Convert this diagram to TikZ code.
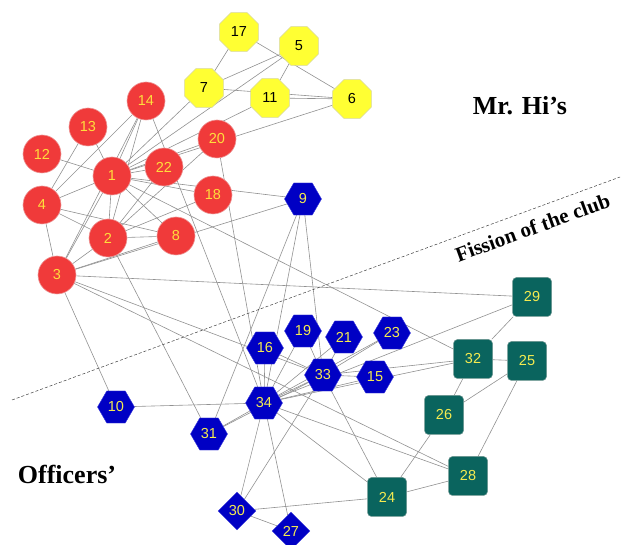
\documentclass[tikz,border=0pt]{standalone}
\usepackage{fontspec}
\setmainfont{Liberation Serif}
\newfontfamily\numfont{Liberation Sans}
\usetikzlibrary{shapes.geometric,backgrounds}
\definecolor{hired}{RGB}{240,58,58}
\definecolor{hiredline}{RGB}{236,150,150}
\definecolor{hitext}{RGB}{255,222,60}
\definecolor{yelfill}{RGB}{255,255,51}
\definecolor{yelline}{RGB}{215,215,150}
\definecolor{offblue}{RGB}{0,0,196}
\definecolor{offline}{RGB}{60,60,220}
\definecolor{offtext}{RGB}{245,235,80}
\definecolor{tealfill}{RGB}{10,100,94}
\definecolor{tealline}{RGB}{110,150,145}
\definecolor{edgegray}{RGB}{145,145,145}
\begin{document}
\begin{tikzpicture}[x=1pt,y=-1pt,
  lbl/.style={font=\numfont\fontsize{14.5}{14.5}\selectfont, inner sep=0pt},
  hinode/.style={lbl, circle, minimum size=38pt, fill=hired, draw=hiredline, line width=0.6pt, text=hitext},
  octnode/.style={lbl, regular polygon, regular polygon sides=8, minimum size=42pt, fill=yelfill, draw=yelline, line width=0.6pt, text=black},
  hexnode/.style={lbl, regular polygon, regular polygon sides=6, minimum size=37pt, fill=offblue, draw=offline, line width=0.4pt, text=offtext},
  dianode/.style={lbl, diamond, aspect=1, minimum width=38pt, minimum height=38pt, fill=offblue, draw=offline, line width=0.4pt, text=offtext},
  sqnode/.style={lbl, rectangle, rounded corners=4pt, minimum size=39pt, fill=tealfill, draw=tealline, line width=0.5pt, text=offtext},
  tie/.style={draw=edgegray, line width=0.6pt},
  grouplabel/.style={font=\bfseries\fontsize{26}{26}\selectfont, inner sep=0pt},
  splitline/.style={draw=black!75, dashed, dash pattern=on 3pt off 2pt, line width=0.5pt}]
\useasboundingbox (0,0) rectangle (622,545);

% Mr. Hi's faction
\node[hinode] (n1) at (112,176) {1};
\node[hinode] (n2) at (108,238) {2};
\node[hinode] (n3) at (57,275) {3};
\node[hinode] (n4) at (42,205) {4};
\node[hinode] (n8) at (176,236) {8};
\node[hinode] (n12) at (42,154) {12};
\node[hinode] (n13) at (88,127) {13};
\node[hinode] (n14) at (146,101) {14};
\node[hinode] (n18) at (213,195) {18};
\node[hinode] (n20) at (217,139) {20};
\node[hinode] (n22) at (164,167) {22};
\node[octnode] (n5) at (299,46) {5};
\node[octnode] (n6) at (352,99) {6};
\node[octnode] (n7) at (204,88) {7};
\node[octnode] (n11) at (270,98) {11};
\node[octnode] (n17) at (239,32) {17};

% Officers' faction
\node[hexnode] (n9) at (303,199) {9};
\node[hexnode] (n10) at (116,407) {10};
\node[hexnode] (n15) at (375,377) {15};
\node[hexnode] (n16) at (265,348) {16};
\node[hexnode] (n19) at (303,331) {19};
\node[hexnode] (n21) at (344,337) {21};
\node[hexnode] (n23) at (392,333) {23};
\node[hexnode] (n31) at (209,434) {31};
\node[hexnode] (n33) at (323,375) {33};
\node[hexnode] (n34) at (264,403) {34};
\node[dianode] (n27) at (291,531) {27};
\node[dianode] (n30) at (237,511) {30};
\node[sqnode] (n24) at (387,497) {24};
\node[sqnode] (n25) at (527,361) {25};
\node[sqnode] (n26) at (444,415) {26};
\node[sqnode] (n28) at (468,476) {28};
\node[sqnode] (n29) at (532,297) {29};
\node[sqnode] (n32) at (473,359) {32};

% friendship ties
\begin{scope}[on background layer]
\foreach \a/\b in {1/2,1/3,1/4,1/5,1/6,1/7,1/8,1/9,1/11,1/12,1/13,1/14,1/18,1/20,1/22,1/32,
  2/3,2/4,2/8,2/14,2/18,2/20,2/22,2/31,
  3/4,3/8,3/9,3/10,3/14,3/28,3/29,3/33,
  4/8,4/13,4/14,5/7,5/11,6/7,6/11,6/17,7/17,
  9/31,9/33,9/34,10/34,14/34,15/33,15/34,16/33,16/34,19/33,19/34,
  20/34,21/33,21/34,23/33,23/34,24/26,24/28,24/30,24/33,24/34,
  25/26,25/28,25/32,26/32,27/30,27/34,28/34,29/32,29/34,
  30/33,30/34,31/33,31/34,32/33,32/34,33/34}
  \draw[tie] (n\a) -- (n\b);
\end{scope}

% split of the club
\coordinate (cutA) at (12,400);
\coordinate (cutB) at (620,177);
\draw[splitline] (cutA) -- (cutB);

\node[grouplabel, anchor=base] (hilabel) at (520,115) {Mr. Hi’s};
\node[grouplabel, anchor=base] (offlabel) at (67,484) {Officers’};
\node[font=\bfseries\fontsize{21}{21}\selectfont, inner sep=0pt, anchor=base, rotate=20] (fission) at (535,234.5) {Fission of the club};
\end{tikzpicture}
\end{document}
